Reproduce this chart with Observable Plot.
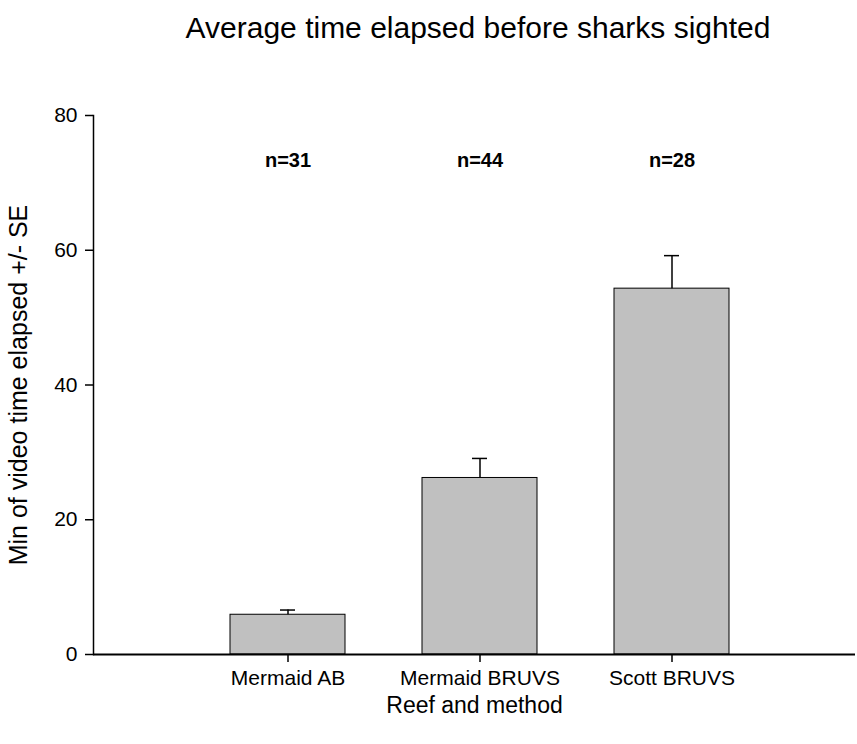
<!DOCTYPE html>
<html>
<head>
<meta charset="utf-8">
<script src="https://cdn.jsdelivr.net/npm/d3@7"></script>
<script src="https://cdn.jsdelivr.net/npm/@observablehq/plot@0.6"></script>
<style>
  body { margin: 0; background: #fff; font-family: "Liberation Sans", Arial, sans-serif; }
  #wrap { width: 857px; }
  #title { position: relative; height: 60px; }
  #title span {
    position: absolute; left: 478px; top: 13px; transform: translateX(-50%);
    font-size: 30px; line-height: 30px; white-space: nowrap; color: #000;
  }
</style>
</head>
<body>
<div id="wrap">
  <div id="title"><span>Average time elapsed before sharks sighted</span></div>
  <div id="chart"></div>
</div>
<script>
// Reef / survey method groups
const categories = ["Mermaid AB", "Mermaid BRUVS", "Scott BRUVS"];
// Mean minutes of video elapsed before the first shark
const means = [5.9, 26.2, 54.3];
// Standard error of each mean
const errors = [0.7, 2.9, 4.9];
// Sample sizes printed above each bar
const sampleSizes = ["n=31", "n=44", "n=28"];
const yTicks = [0, 20, 40, 60, 80];

const rows = categories.map((c, i) => ({reef: c, mean: means[i], se: errors[i], n: sampleSizes[i]}));

const font = "'Liberation Sans', Arial, sans-serif";

const chart = Plot.plot({
  width: 857,
  height: 684,
  marginTop: 55,
  marginBottom: 90,
  marginLeft: 93,
  marginRight: 2,
  style: {fontFamily: font, fontSize: "21px", color: "#000", background: "#fff"},
  x: {domain: categories, paddingInner: 0.4, paddingOuter: 0.68, align: 0.52},
  y: {domain: [0, 80]},
  marks: [
    Plot.axisY({ticks: yTicks, tickSize: 8, tickPadding: 8, fontSize: 21, label: null, strokeWidth: 1.5}),
    Plot.axisX({tickSize: 8, tickPadding: 8, fontSize: 21, label: null, strokeWidth: 1.5}),
    Plot.frame({anchor: "left", strokeWidth: 1.5}),
    Plot.barY(rows, {x: "reef", y: "mean", fill: "#c0c0c0", stroke: "#000", strokeWidth: 1}),
    Plot.ruleX(rows, {x: "reef", y1: "mean", y2: d => d.mean + d.se, strokeWidth: 1.5}),
    Plot.tickY(rows, {x: "reef", y: d => d.mean + d.se, insetLeft: 50, insetRight: 50, strokeWidth: 1.5}),
    Plot.ruleY([0], {strokeWidth: 2}),
    Plot.text(rows, {x: "reef", text: "n", frameAnchor: "top", dy: 45, lineAnchor: "middle", fontWeight: "bold", fontSize: 20}),
    Plot.text(["Reef and method"], {frameAnchor: "bottom", dy: 51, lineAnchor: "middle", textAnchor: "middle", fontSize: 23}),
    Plot.text(["Min of video time elapsed +/- SE"], {frameAnchor: "left", dx: -75, rotate: -90, lineAnchor: "middle", textAnchor: "middle", fontSize: 25})
  ]
});

document.getElementById("chart").appendChild(chart);
</script>
</body>
</html>
